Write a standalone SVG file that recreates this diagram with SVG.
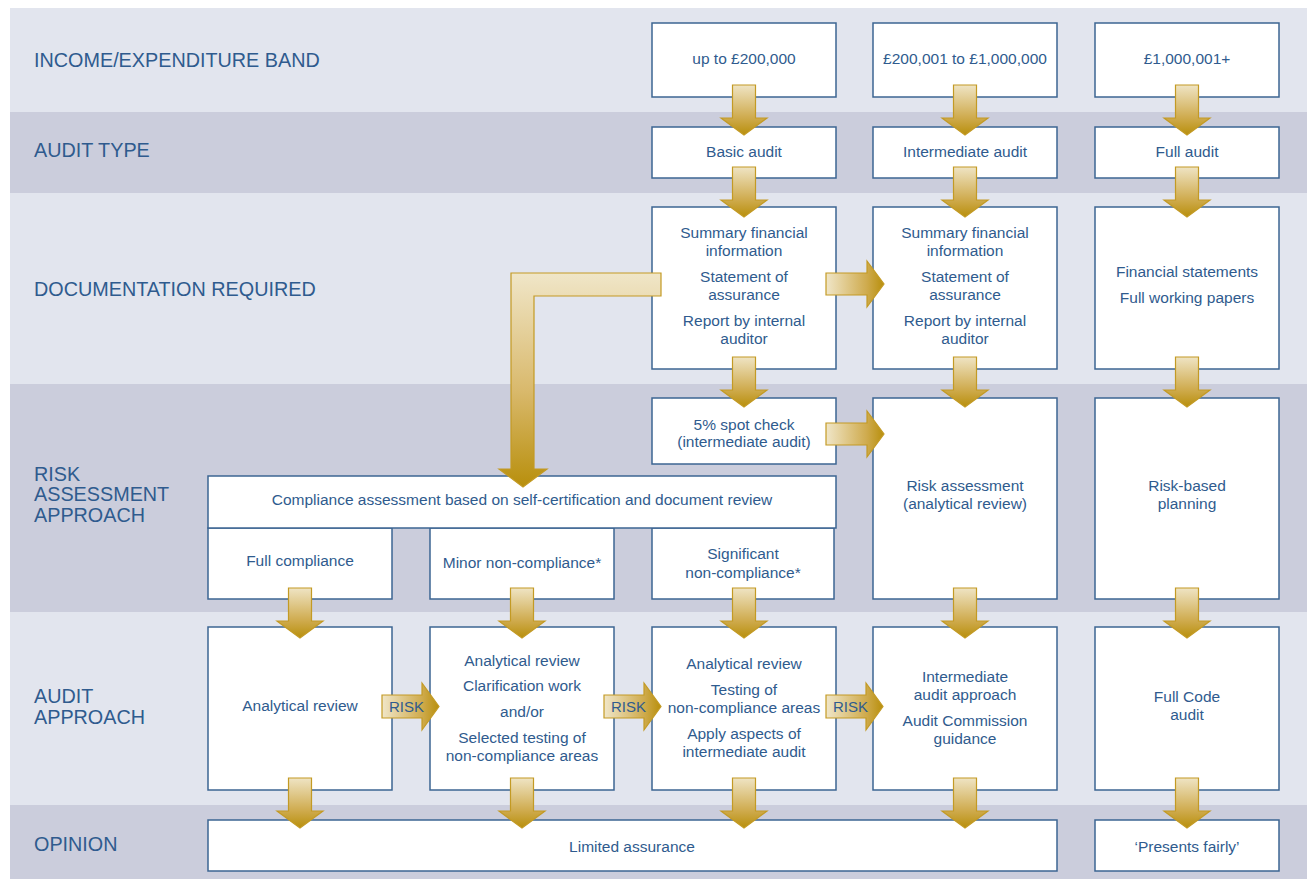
<svg xmlns="http://www.w3.org/2000/svg" width="1307" height="879" viewBox="0 0 1307 879">
<defs>
<style>
.bl{fill:#e2e5ee}
.bd{fill:#cbcddc}
.box{fill:#fff;stroke:#3d6592;stroke-width:1.5}
.lab{font-family:"Liberation Sans",Arial,sans-serif;font-size:19.8px;fill:#2f5b8e}
.t{font-family:"Liberation Sans",Arial,sans-serif;font-size:15.5px;fill:#2f5b8e;text-anchor:middle}
.av{fill:url(#gv);stroke:#c39a24;stroke-width:1.2}
.ah{fill:url(#gh);stroke:#c39a24;stroke-width:1.2}
.rk{font-family:"Liberation Sans",Arial,sans-serif;font-size:15px;fill:#2f5b8e}
</style>
<linearGradient id="gv" x1="0" y1="0" x2="0" y2="1">
<stop offset="0" stop-color="#efe4c4"/>
<stop offset="0.65" stop-color="#cfab4e"/>
<stop offset="1" stop-color="#b88f0c"/>
</linearGradient>
<linearGradient id="gh" x1="0" y1="0" x2="1" y2="0">
<stop offset="0" stop-color="#f0e6c8"/>
<stop offset="0.7" stop-color="#cfab4e"/>
<stop offset="1" stop-color="#b88f0c"/>
</linearGradient>
<linearGradient id="gl" x1="0" y1="0" x2="0" y2="1">
<stop offset="0" stop-color="#f0e6c8"/>
<stop offset="0.55" stop-color="#d9b96c"/>
<stop offset="1" stop-color="#b88f0c"/>
</linearGradient>
<path id="down" class="av" d="M-11.5,0 H11.5 V33 H23 L0,50 L-23,33 H-11.5 Z"/>
<path id="right" class="ah" d="M0,-11 H41 V-23 L58,0 L41,23 V11 H0 Z"/>
</defs>

<g id="bands">
<rect class="bl" x="10" y="8" width="1297" height="104"/>
<rect class="bd" x="10" y="112" width="1297" height="81"/>
<rect class="bl" x="10" y="193" width="1297" height="191"/>
<rect class="bd" x="10" y="384" width="1297" height="228"/>
<rect class="bl" x="10" y="612" width="1297" height="193"/>
<rect class="bd" x="10" y="805" width="1297" height="74"/>
</g>

<g id="row-labels">
<text class="lab" x="34" y="67">INCOME/EXPENDITURE BAND</text>
<text class="lab" x="34" y="157">AUDIT TYPE</text>
<text class="lab" x="34" y="296">DOCUMENTATION REQUIRED</text>
<text class="lab" x="34" y="481">RISK</text>
<text class="lab" x="34" y="501">ASSESSMENT</text>
<text class="lab" x="34" y="522">APPROACH</text>
<text class="lab" x="34" y="703">AUDIT</text>
<text class="lab" x="34" y="724">APPROACH</text>
<text class="lab" x="34" y="851">OPINION</text>
</g>

<g id="band-low"><rect class="box" x="652" y="23" width="184" height="74"/><text class="t" x="744" y="64">up to £200,000</text></g>
<g id="band-mid"><rect class="box" x="873" y="23" width="184" height="74"/><text class="t" x="965" y="64">£200,001 to £1,000,000</text></g>
<g id="band-high"><rect class="box" x="1095" y="23" width="184" height="74"/><text class="t" x="1187" y="64">£1,000,001+</text></g>

<g id="basic-audit"><rect class="box" x="652" y="127" width="184" height="51"/><text class="t" x="744" y="157">Basic audit</text></g>
<g id="intermediate-audit"><rect class="box" x="873" y="127" width="184" height="51"/><text class="t" x="965" y="157">Intermediate audit</text></g>
<g id="full-audit"><rect class="box" x="1095" y="127" width="184" height="51"/><text class="t" x="1187" y="157">Full audit</text></g>

<g id="doc-basic"><rect class="box" x="652" y="207" width="184" height="162"/>
<text class="t" x="744" y="238">Summary financial</text><text class="t" x="744" y="256">information</text>
<text class="t" x="744" y="282">Statement of</text><text class="t" x="744" y="300">assurance</text>
<text class="t" x="744" y="326">Report by internal</text><text class="t" x="744" y="344">auditor</text></g>
<g id="doc-intermediate"><rect class="box" x="873" y="207" width="184" height="162"/>
<text class="t" x="965" y="238">Summary financial</text><text class="t" x="965" y="256">information</text>
<text class="t" x="965" y="282">Statement of</text><text class="t" x="965" y="300">assurance</text>
<text class="t" x="965" y="326">Report by internal</text><text class="t" x="965" y="344">auditor</text></g>
<g id="doc-full"><rect class="box" x="1095" y="207" width="184" height="162"/>
<text class="t" x="1187" y="277">Financial statements</text><text class="t" x="1187" y="303">Full working papers</text></g>

<g id="spot-check"><rect class="box" x="652" y="398" width="184" height="66"/>
<text class="t" x="744" y="430">5% spot check</text><text class="t" x="744" y="447">(intermediate audit)</text></g>
<g id="risk-assessment"><rect class="box" x="873" y="398" width="184" height="201"/>
<text class="t" x="965" y="491">Risk assessment</text><text class="t" x="965" y="509">(analytical review)</text></g>
<g id="risk-planning"><rect class="box" x="1095" y="398" width="184" height="201"/>
<text class="t" x="1187" y="491">Risk-based</text><text class="t" x="1187" y="509">planning</text></g>

<g id="full-compliance"><rect class="box" x="208" y="528" width="184" height="71"/><text class="t" x="300" y="566">Full compliance</text></g>
<g id="minor-noncompliance"><rect class="box" x="430" y="528" width="184" height="71"/><text class="t" x="522" y="568">Minor non-compliance*</text></g>
<g id="significant-noncompliance"><rect class="box" x="652" y="528" width="182" height="71"/><text class="t" x="743" y="559">Significant</text><text class="t" x="743" y="578">non-compliance*</text></g>
<g id="compliance-assessment"><rect class="box" x="208" y="476" width="628" height="52"/><text class="t" x="522" y="505">Compliance assessment based on self-certification and document review</text></g>

<g id="approach-1"><rect class="box" x="208" y="627" width="184" height="163"/><text class="t" x="300" y="711">Analytical review</text></g>
<g id="approach-2"><rect class="box" x="430" y="627" width="184" height="163"/>
<text class="t" x="522" y="666">Analytical review</text><text class="t" x="522" y="691">Clarification work</text>
<text class="t" x="522" y="717">and/or</text><text class="t" x="522" y="743">Selected testing of</text><text class="t" x="522" y="761">non-compliance areas</text></g>
<g id="approach-3"><rect class="box" x="652" y="627" width="184" height="163"/>
<text class="t" x="744" y="669">Analytical review</text><text class="t" x="744" y="695">Testing of</text>
<text class="t" x="744" y="713">non-compliance areas</text><text class="t" x="744" y="739">Apply aspects of</text><text class="t" x="744" y="757">intermediate audit</text></g>
<g id="approach-4"><rect class="box" x="873" y="627" width="184" height="163"/>
<text class="t" x="965" y="682">Intermediate</text><text class="t" x="965" y="700">audit approach</text>
<text class="t" x="965" y="726">Audit Commission</text><text class="t" x="965" y="744">guidance</text></g>
<g id="approach-5"><rect class="box" x="1095" y="627" width="184" height="163"/>
<text class="t" x="1187" y="702">Full Code</text><text class="t" x="1187" y="720">audit</text></g>

<g id="limited-assurance"><rect class="box" x="208" y="820" width="849" height="51"/><text class="t" x="632" y="852">Limited assurance</text></g>
<g id="presents-fairly"><rect class="box" x="1095" y="820" width="184" height="51"/><text class="t" x="1187" y="852">‘Presents fairly’</text></g>

<g id="connectors">
<use href="#down" x="744" y="85"/>
<use href="#down" x="965" y="85"/>
<use href="#down" x="1187" y="85"/>
<use href="#down" x="744" y="167"/>
<use href="#down" x="965" y="167"/>
<use href="#down" x="1187" y="167"/>
<use href="#down" x="744" y="357"/>
<use href="#down" x="965" y="357"/>
<use href="#down" x="1187" y="357"/>
<use href="#down" x="300" y="588"/>
<use href="#down" x="522" y="588"/>
<use href="#down" x="744" y="588"/>
<use href="#down" x="965" y="588"/>
<use href="#down" x="1187" y="588"/>
<use href="#down" x="300" y="778"/>
<use href="#down" x="522" y="778"/>
<use href="#down" x="744" y="778"/>
<use href="#down" x="965" y="778"/>
<use href="#down" x="1187" y="778"/>
<use href="#right" x="826" y="284"/>
<use href="#right" x="826" y="434"/>
<path d="M661,273 V296 H534 V469 H547 L523,487 L499,469 H511 V273 Z" fill="url(#gl)" stroke="#c39a24" stroke-width="1.2"/>
<g id="risk-1"><path class="ah" d="M382,695 H422 V683 L439,706.5 L422,730 V718 H382 Z"/><text class="rk" x="389" y="712">RISK</text></g>
<g id="risk-2"><path class="ah" d="M604,695 H644 V683 L661,706.5 L644,730 V718 H604 Z"/><text class="rk" x="611" y="712">RISK</text></g>
<g id="risk-3"><path class="ah" d="M826,695 H866 V683 L883,706.5 L866,730 V718 H826 Z"/><text class="rk" x="833" y="712">RISK</text></g>
</g>
</svg>
